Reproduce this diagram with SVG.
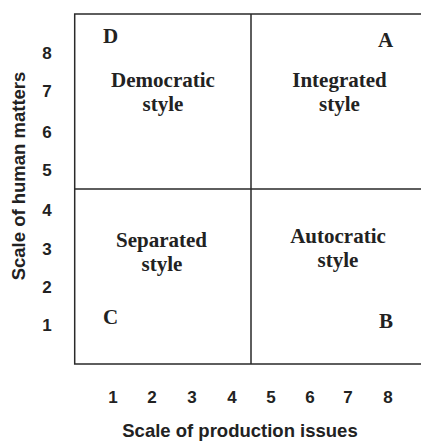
<svg xmlns="http://www.w3.org/2000/svg" width="421" height="441" viewBox="0 0 421 441">
<style>
.ln{stroke:#2a2a2a;stroke-width:1.5;fill:none}
.q{font-family:"Liberation Serif","Times New Roman",serif;font-weight:bold;font-size:21px;fill:#222;text-anchor:middle}
.ax{font-family:"Liberation Sans",Arial,sans-serif;font-weight:bold;fill:#222;text-anchor:middle}
.n{font-size:17px}
.t{font-size:18.5px}
</style>
<rect width="421" height="441" fill="#fff"/>
<g id="frame">
<path class="ln" d="M421,14 H74.7 V364 H421"/>
<path class="ln" d="M251,14 V364 M74.7,189 H421"/>
</g>
<g id="quadrant-D">
<text class="q" x="110.5" y="43">D</text>
<text class="q" x="163" y="87">Democratic</text>
<text class="q" x="163" y="111">style</text>
</g>
<g id="quadrant-A">
<text class="q" x="385.5" y="47">A</text>
<text class="q" x="339.5" y="87">Integrated</text>
<text class="q" x="339.5" y="111">style</text>
</g>
<g id="quadrant-C">
<text class="q" x="110.5" y="324">C</text>
<text class="q" x="161.5" y="247">Separated</text>
<text class="q" x="162" y="271">style</text>
</g>
<g id="quadrant-B">
<text class="q" x="386" y="328">B</text>
<text class="q" x="338" y="243">Autocratic</text>
<text class="q" x="338" y="267">style</text>
</g>
<g id="y-axis" class="ax">
<text class="n" x="47" y="59">8</text>
<text class="n" x="47" y="97">7</text>
<text class="n" x="47" y="137.5">6</text>
<text class="n" x="47" y="175.5">5</text>
<text class="n" x="47" y="215.5">4</text>
<text class="n" x="47" y="254.5">3</text>
<text class="n" x="47" y="292.5">2</text>
<text class="n" x="47" y="330.5">1</text>
<text class="t" transform="translate(25,176) rotate(-90)">Scale of human matters</text>
</g>
<g id="x-axis" class="ax">
<text class="n" x="113" y="403">1</text>
<text class="n" x="152" y="403">2</text>
<text class="n" x="192" y="403">3</text>
<text class="n" x="232" y="403">4</text>
<text class="n" x="271" y="403">5</text>
<text class="n" x="310" y="403">6</text>
<text class="n" x="348" y="403">7</text>
<text class="n" x="388" y="403">8</text>
<text class="t" x="240" y="437">Scale of production issues</text>
</g>
</svg>
